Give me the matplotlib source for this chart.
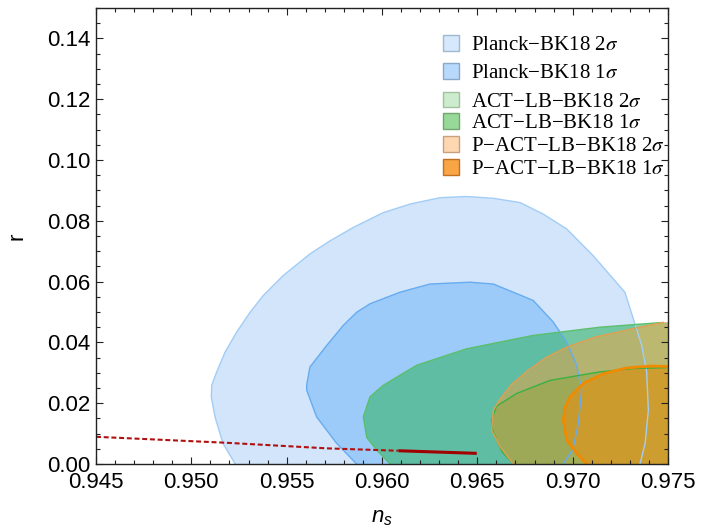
import numpy as np
import matplotlib
matplotlib.use('Agg')
import matplotlib.pyplot as plt
from matplotlib.patches import Patch
from matplotlib.font_manager import FontProperties

plt.rcParams['font.family'] = 'Liberation Sans'
plt.rcParams['mathtext.fontset'] = 'custom'
plt.rcParams['mathtext.it'] = 'Liberation Sans:italic'
plt.rcParams['mathtext.rm'] = 'Liberation Sans'

# contour outlines (n_s, r); points below r=0 / right of 0.975 get clipped
planck_2s_ns = [0.9525, 0.9523, 0.95166, 0.95124, 0.95105, 0.95107, 0.95133, 0.95177, 0.95238, 0.95308,
                0.95377, 0.95482, 0.95622, 0.95727, 0.95849, 0.96007, 0.96147, 0.96304, 0.96444, 0.96584,
                0.96724, 0.96846, 0.96969, 0.97108, 0.97213, 0.97274, 0.97318, 0.97362, 0.97388, 0.97397,
                0.9738, 0.97353, 0.9734]
planck_2s_r = [-0.005, 0.0, 0.0068, 0.0155, 0.022, 0.0259, 0.0303, 0.0368, 0.0434, 0.0499,
               0.0554, 0.062, 0.0691, 0.0734, 0.0778, 0.0827, 0.0855, 0.0876, 0.088, 0.0874,
               0.086, 0.0822, 0.0773, 0.0685, 0.0609, 0.0565, 0.0478, 0.039, 0.0303, 0.0177,
               0.0068, 0.0, -0.005]

planck_1s_ns = [0.9589, 0.95867, 0.95762, 0.95657, 0.95605, 0.95605, 0.95622, 0.9571, 0.95797, 0.95867,
                0.95937, 0.96094, 0.96252, 0.96462, 0.96584, 0.96793, 0.96898, 0.96969, 0.97021, 0.97047,
                0.9703, 0.970, 0.9695, 0.9694]
planck_1s_r = [-0.005, 0.0, 0.0068, 0.0155, 0.0243, 0.026, 0.0319, 0.039, 0.0456, 0.0499,
               0.0527, 0.0565, 0.0592, 0.0598, 0.0592, 0.0538, 0.0467, 0.0401, 0.0325, 0.0243,
               0.0133, 0.0046, 0.0, -0.005]

act_2s_ns = [0.9606, 0.96042, 0.95972, 0.9592, 0.95902, 0.95937, 0.96007, 0.96182, 0.96444, 0.96793,
             0.97143, 0.97458, 0.977, 0.977]
act_2s_r = [-0.005, 0.0, 0.0046, 0.0087, 0.0155, 0.0221, 0.0259, 0.0325, 0.0379, 0.0423,
            0.045, 0.0465, 0.047, -0.005]

act_1s_ns = [0.9670, 0.96689, 0.9663, 0.96601, 0.96578, 0.96575, 0.9660, 0.96706, 0.96881, 0.97143,
             0.97318, 0.9749, 0.977, 0.977]
act_1s_r = [-0.005, 0.0, 0.004, 0.0079, 0.0115, 0.0144, 0.019, 0.0232, 0.0275, 0.0303,
            0.0314, 0.0317, 0.032, -0.005]

pact_2s_ns = [0.9670, 0.96689, 0.96619, 0.96575, 0.96584, 0.9662, 0.9668, 0.9676, 0.9686, 0.9697,
              0.9712, 0.9730, 0.97475, 0.977, 0.977]
pact_2s_r = [-0.005, 0.0, 0.0057, 0.0111, 0.0177, 0.0215, 0.0262, 0.0305, 0.035, 0.0385,
             0.0418, 0.0443, 0.0466, 0.047, -0.005]

pact_1s_ns = [0.9709, 0.97073, 0.97021, 0.96969, 0.96951, 0.9696, 0.96986, 0.97056, 0.97161, 0.97283,
              0.97406, 0.97493, 0.977, 0.977]
pact_1s_r = [-0.005, 0.0, 0.0035, 0.0079, 0.0144, 0.0185, 0.0221, 0.0265, 0.0297, 0.0316,
             0.0322, 0.0321, 0.032, -0.005]

# model prediction line
model_dash_ns = [0.945, 0.95185, 0.9571, 0.96086]
model_dash_r = [0.00895, 0.00698, 0.00515, 0.00436]
model_solid_ns = [0.96086, 0.96497]
model_solid_r = [0.00436, 0.0035]

labels = ['Planck\u2212BK18 2$\\sigma$', 'Planck\u2212BK18 1$\\sigma$',
          'ACT\u2212LB\u2212BK18 2$\\sigma$', 'ACT\u2212LB\u2212BK18 1$\\sigma$',
          'P\u2212ACT\u2212LB\u2212BK18 2$\\sigma$', 'P\u2212ACT\u2212LB\u2212BK18 1$\\sigma$']

fig = plt.figure(figsize=(7.01, 5.29), dpi=100)
ax = fig.add_axes([96/701, 65/529, 572/701, 456/529])

ax.fill(planck_2s_ns, planck_2s_r, facecolor='#a6cdf7', alpha=0.5, edgecolor='none')
ax.plot(planck_2s_ns[1:-1], planck_2s_r[1:-1], color='#a2cdf6', lw=1.0)
ax.fill(planck_1s_ns, planck_1s_r, facecolor='#6ab3f9', alpha=0.5, edgecolor='none')
ax.plot(planck_1s_ns[1:-1], planck_1s_r[1:-1], color='#66acf0', lw=1.0)
ax.fill(act_2s_ns, act_2s_r, facecolor='#34b46a', alpha=0.6, edgecolor='none')
ax.plot(act_2s_ns[1:-2], act_2s_r[1:-2], color='#5cbf6c', lw=1.0)
ax.fill(act_1s_ns, act_1s_r, facecolor='#28aa3c', alpha=0.45, edgecolor='none')
ax.plot(act_1s_ns[1:-2], act_1s_r[1:-2], color='#3cb043', lw=1.0)
ax.fill(pact_2s_ns, pact_2s_r, facecolor='#f5a03c', alpha=0.5, edgecolor='none')
ax.plot(pact_2s_ns[1:-2], pact_2s_r[1:-2], color='#e0a050', lw=1.0)
ax.fill(pact_1s_ns, pact_1s_r, facecolor='#e69114', alpha=0.6, edgecolor='none')
ax.plot(pact_1s_ns[1:-2], pact_1s_r[1:-2], color='#f08a00', lw=2.0)

ax.plot(model_dash_ns, model_dash_r, color='#b01010', lw=1.5, dashes=(2.4, 1.3))
ax.plot(model_solid_ns, model_solid_r, color='#a00000', lw=2.2, solid_capstyle='butt')

ax.set_xlim(0.945, 0.975)
ax.set_ylim(0.0, 0.15)
ax.set_xticks(np.arange(0.945, 0.9751, 0.005))
ax.set_xticks(np.arange(0.945, 0.9751, 0.001), minor=True)
ax.set_yticks(np.arange(0.0, 0.141, 0.02))
ax.set_yticks(np.arange(0.0, 0.151, 0.005), minor=True)
ax.xaxis.set_major_formatter(matplotlib.ticker.FormatStrFormatter('%.3f'))
ax.yaxis.set_major_formatter(matplotlib.ticker.FormatStrFormatter('%.2f'))
ax.tick_params(which='both', direction='in', top=True, right=True, width=0.8, color='#222222')
ax.tick_params(which='major', length=5.2, labelsize=16, pad=4)
ax.tick_params(axis='x', which='major', pad=6)
ax.tick_params(which='minor', length=3)
for s in ax.spines.values():
    s.set_linewidth(1.0)
    s.set_color('#222222')

ax.set_xlabel('$n_s$', fontsize=16, labelpad=10)
ax.set_ylabel('r', fontsize=16, labelpad=14)

face = ['#d6e8fb', '#b8d9fb', '#cdeccd', '#98d898', '#fdd7b0', '#f9a445']
edge = ['#a0b8d0', '#8aa8c8', '#a0c0a0', '#70a870', '#c8a080', '#c07020']
handles = [Patch(facecolor=f, edgecolor=e, lw=1.0) for f, e in zip(face, edge)]
lp = FontProperties(family='Liberation Serif', size=15, math_fontfamily='stix')
leg1 = fig.legend(handles[:3], labels[:3], loc='upper left', bbox_to_anchor=(443/701, 1 - 35/529),
                  frameon=False, prop=lp, borderpad=0, borderaxespad=0, handlelength=0.77,
                  handleheight=0.77, handletextpad=0.58, labelspacing=0.40)
leg2 = fig.legend(handles[3:], labels[3:], loc='upper left', bbox_to_anchor=(443/701, 1 - 113/529),
                  frameon=False, prop=lp, borderpad=0, borderaxespad=0, handlelength=0.77,
                  handleheight=0.77, handletextpad=0.58, labelspacing=0.15)

fig.savefig('out.png', dpi=100)
